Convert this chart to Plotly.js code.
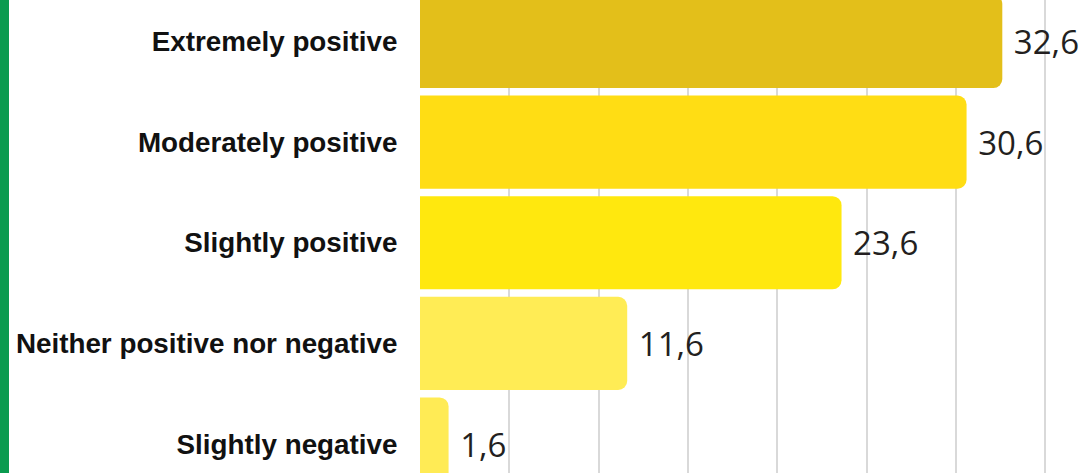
<!DOCTYPE html>
<html>
<head>
<meta charset="utf-8">
<script src="https://cdn.plot.ly/plotly-3.0.1.min.js"></script>
<style>html,body{margin:0;padding:0;background:#fff;}#chart{width:1090px;height:473px;}</style>
</head>
<body>
<div id="chart"></div>
<script>
const categories = ["Extremely positive", "Moderately positive", "Slightly positive", "Neither positive nor negative", "Slightly negative"];
const values = [32.6, 30.6, 23.6, 11.6, 1.6];
const valueLabels = ["32,6", "30,6", "23,6", "11,6", "1,6"];
const barColors = ["#E3BF1A", "#FFDD14", "#FFE80E", "#FFEC55", "#FFEB55"];

const trace = {
  type: "bar",
  orientation: "h",
  y: categories,
  x: values,
  text: valueLabels,
  texttemplate: "\u00a0%{text}",
  textposition: "outside",
  cliponaxis: false,
  textfont: {family: "Open Sans, sans-serif", size: 33, color: "#231f20"},
  marker: {color: barColors, cornerradius: 9, line: {width: 0}},
  width: 0.925,
  hoverinfo: "skip"
};

const layout = {
  width: 1090,
  height: 473,
  margin: {l: 420, r: 0, t: 0, b: 0, pad: 0},
  paper_bgcolor: "#ffffff",
  plot_bgcolor: "#ffffff",
  showlegend: false,
  xaxis: {
    range: [0, 37.51],
    dtick: 5,
    tick0: 0,
    showgrid: true,
    gridcolor: "#d9d9d9",
    gridwidth: 2,
    zeroline: false,
    showticklabels: false,
    showline: false,
    fixedrange: true
  },
  yaxis: {
    type: "category",
    range: [4.288, -0.4125],
    showgrid: false,
    zeroline: false,
    showline: false,
    ticks: "outside",
    ticklen: 16,
    tickcolor: "rgba(0,0,0,0)",
    tickfont: {family: "Liberation Sans, Arial, sans-serif", size: 27.8, color: "#111111", weight: "bold"},
    fixedrange: true
  },
  shapes: [{
    type: "rect",
    xref: "paper", yref: "paper",
    x0: -420 / 670, x1: -411 / 670,
    y0: 0, y1: 1,
    fillcolor: "#0a9b4f",
    line: {width: 0},
    layer: "above"
  }]
};

Plotly.newPlot("chart", [trace], layout, {displayModeBar: false, staticPlot: true});
</script>
</body>
</html>
